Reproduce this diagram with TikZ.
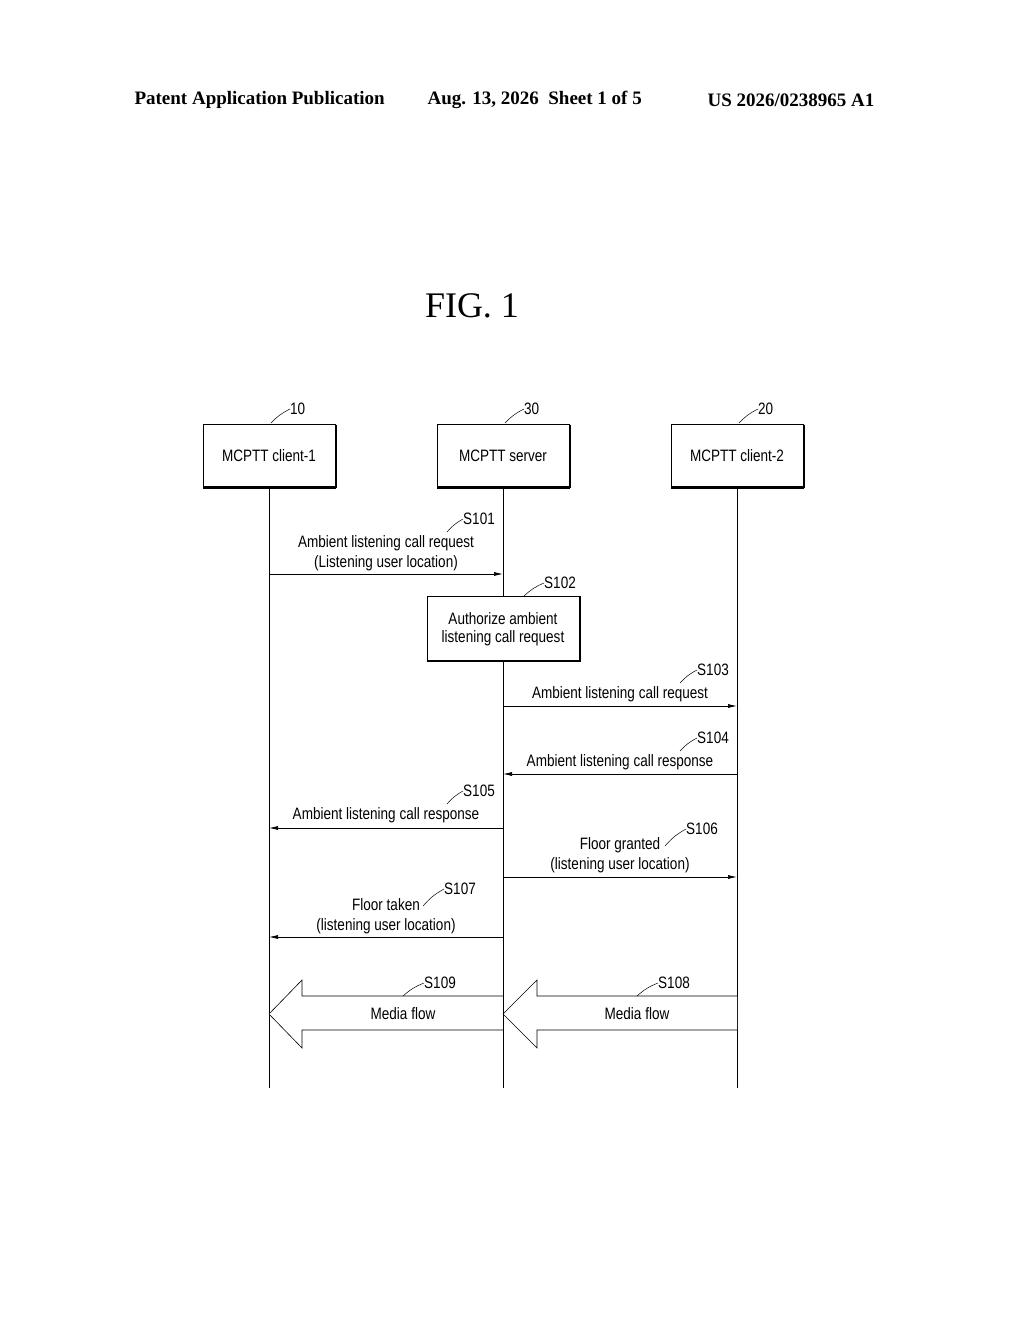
\documentclass[tikz,border=0pt]{standalone}
\usepackage{fontspec}
\setmainfont{Liberation Serif}
\newfontfamily\dfont[FakeStretch=0.82]{Liberation Sans}
\usetikzlibrary{arrows.meta}
\begin{document}
\begin{tikzpicture}[x=1pt,y=-1pt,
  lbl/.style={font=\dfont\fontsize{16.5}{18}\selectfont,inner sep=0pt,align=center},
  ent/.style={draw,line width=0.8pt,minimum width=132pt,minimum height=64pt,font=\dfont\fontsize{16.5}{18}\selectfont},
  life/.style={line width=0.6pt},
  msg/.style={line width=0.7pt,-{Latex[length=9pt,width=4pt]}},
  lead/.style={line width=0.5pt},
  fat/.style={draw,line width=0.6pt,fill=white}]
\useasboundingbox (0,0) rectangle (1024,1320);
\node[font=\bfseries\fontsize{19}{21}\selectfont,anchor=west] (h1) at (131,100) {Patent Application Publication};
\node[font=\bfseries\fontsize{19}{21}\selectfont,anchor=west] (h2) at (424,100) {Aug. 13, 2026\ \ Sheet 1 of 5};
\node[font=\bfseries\fontsize{19}{21}\selectfont,anchor=west] (h3) at (704,100) {US 2026/0238965 A1};
\node[font=\fontsize{36}{40}\selectfont] (fig) at (472,306) {FIG. 1};
% entities
\node[ent] (c1) at (269,456) {MCPTT client-1};
\node[ent] (sv) at (503,456) {MCPTT server};
\node[ent] (c2) at (737,456) {MCPTT client-2};
\foreach \n in {c1,sv,c2}{
  \draw[line width=2pt] ([xshift=1pt,yshift=-1pt]\n.north east) -- ([xshift=1pt,yshift=1pt]\n.south east) -- ([yshift=1pt]\n.south west);}
\coordinate (e1) at (269,1088); \coordinate (es) at (503,1088); \coordinate (e2) at (737,1088);
% S102 box
\node[draw,line width=0.8pt,minimum width=152pt,minimum height=65pt,lbl,inner sep=0pt] (auth) at (503,629) {Authorize ambient\\listening call request};
\draw[line width=2pt] ([xshift=1pt]auth.north east) -- ([xshift=1pt,yshift=1pt]auth.south east) -- ([yshift=1pt]auth.south west);
\draw[life] (c1.south) -- (e1);
\draw[life] (sv.south) -- (auth.north);
\draw[life] (auth.south) -- (es);
\draw[life] (c2.south) -- (e2);
% refs
\node[lbl,anchor=west] (r10) at (290,409) {10}; \draw[lead] (271,423) to[bend left=10] (r10.west);
\node[lbl,anchor=west] (r30) at (524,409) {30}; \draw[lead] (505,423) to[bend left=10] (r30.west);
\node[lbl,anchor=west] (r20) at (758,409) {20}; \draw[lead] (739,423) to[bend left=10] (r20.west);
% S101
\coordinate (a1) at (269,574); \coordinate (b1) at (503,574);
\draw[msg] (a1) -- (b1);
\node[lbl] (t101) at (386,553) {Ambient listening call request\\[2pt](Listening user location)};
\node[lbl,anchor=west] (s101) at (463,519) {S101}; \draw[lead] (447,532) to[bend left=10] (s101.west);
\node[lbl,anchor=west] (s102) at (544,583) {S102}; \draw[lead] (524,596) to[bend left=10] (s102.west);
% S103
\coordinate (a3) at (503,706); \coordinate (b3) at (737,706);
\draw[msg] (a3) -- (b3);
\node[lbl] (t103) at (620,694) {Ambient listening call request};
\node[lbl,anchor=west] (s103) at (697,670) {S103}; \draw[lead] (680,683) to[bend left=10] (s103.west);
% S104
\coordinate (a4) at (737,774); \coordinate (b4) at (503,774);
\draw[msg] (a4) -- (b4);
\node[lbl] (t104) at (620,762) {Ambient listening call response};
\node[lbl,anchor=west] (s104) at (697,738) {S104}; \draw[lead] (680,751) to[bend left=10] (s104.west);
% S105
\coordinate (a5) at (503,828); \coordinate (b5) at (269,828);
\draw[msg] (a5) -- (b5);
\node[lbl] (t105) at (386,815) {Ambient listening call response};
\node[lbl,anchor=west] (s105) at (463,791) {S105}; \draw[lead] (447,804) to[bend left=10] (s105.west);
% S106
\coordinate (a6) at (503,877); \coordinate (b6) at (737,877);
\draw[msg] (a6) -- (b6);
\node[lbl] (t106) at (620,855) {Floor granted\\[2pt](listening user location)};
\node[lbl,anchor=west] (s106) at (686,829) {S106}; \draw[lead] (665,846) to[bend left=10] (s106.west);
% S107
\coordinate (a7) at (503,937); \coordinate (b7) at (269,937);
\draw[msg] (a7) -- (b7);
\node[lbl] (t107) at (386,916) {Floor taken\\[2pt](listening user location)};
\node[lbl,anchor=west] (s107) at (444,889) {S107}; \draw[lead] (423,906) to[bend left=10] (s107.west);
% media flows
\draw[fat] (503,996) -- (302,996) -- (302,980) -- (269,1014) -- (302,1048) -- (302,1030) -- (503,1030);
\draw[fat] (737,996) -- (537,996) -- (537,980) -- (503,1014) -- (537,1048) -- (537,1030) -- (737,1030);
\draw[life] (503,996) -- (503,1088);
\node[lbl] (t109) at (403,1014) {Media flow};
\node[lbl] (t108) at (637,1014) {Media flow};
\node[lbl,anchor=west] (s109) at (424,983) {S109}; \draw[lead] (403,996) to[bend left=10] (s109.west);
\node[lbl,anchor=west] (s108) at (658,983) {S108}; \draw[lead] (637,996) to[bend left=10] (s108.west);
\end{tikzpicture}
\end{document}
